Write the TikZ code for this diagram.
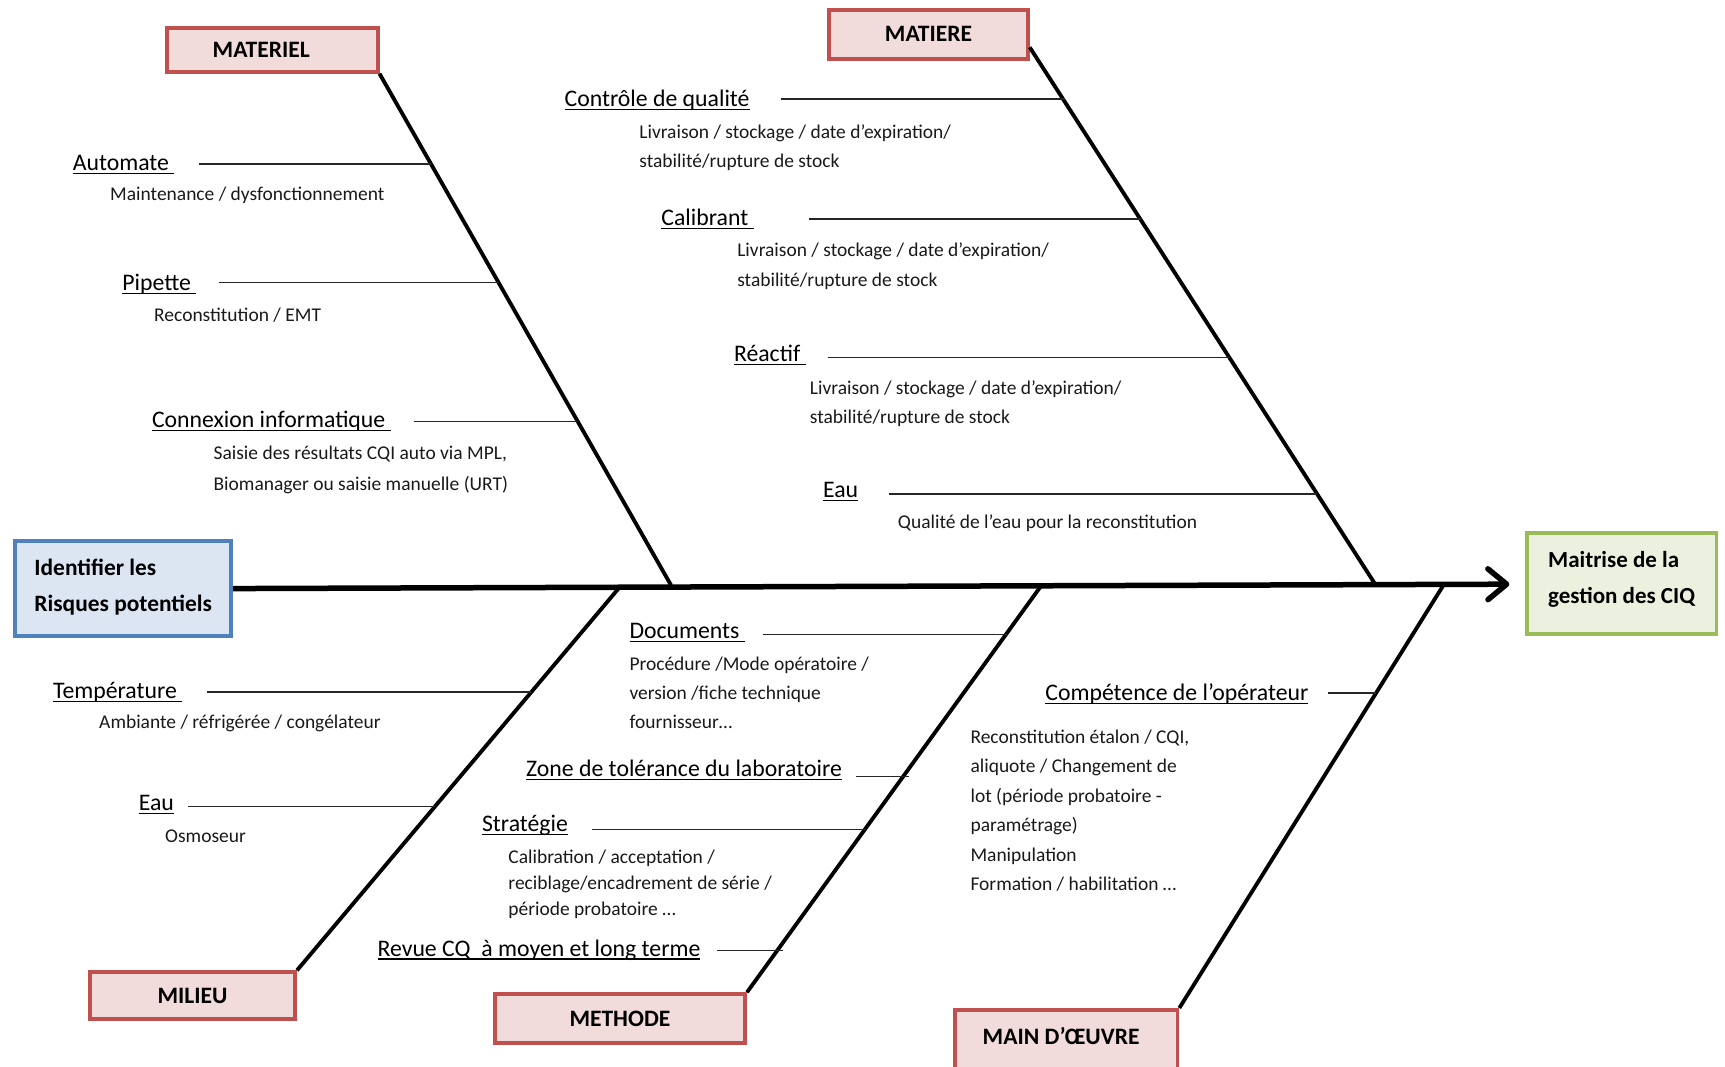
\documentclass[tikz,border=0pt]{standalone}
\usepackage{fontspec}
\setmainfont{Carlito}
\usetikzlibrary{arrows.meta,calc}
\definecolor{redb}{HTML}{C0504D}
\definecolor{redf}{HTML}{F2DCDB}
\definecolor{blueb}{HTML}{4F81BD}
\definecolor{bluef}{HTML}{DCE6F2}
\definecolor{greenb}{HTML}{9BBB59}
\definecolor{greenf}{HTML}{EBF1DE}
\newsavebox\ulbox
\newcommand\uln[1]{\sbox\ulbox{#1}\rlap{\rule[-3.2pt]{\wd\ulbox}{1pt}}\usebox\ulbox}
\begin{document}
\begin{tikzpicture}[x=1pt,y=-1pt,
  redbox/.style={draw=redb, fill=redf, line width=3.5pt, inner sep=0pt,
    font=\fontsize{21.4}{24}\selectfont\bfseries},
  endbox/.style={line width=3.5pt, inner sep=0pt, align=left, text height=47pt},
  lab/.style={anchor=base west, inner sep=0pt, font=\fontsize{21.6}{24}\selectfont},
  sub/.style={anchor=base west, inner sep=0pt, align=left, text=black!90,
    font=\fontsize{17.7}{27}\selectfont},
  bone/.style={line width=3.5pt},
  twig/.style={line width=1.3pt, draw=black!85},
]
\useasboundingbox (0,0) rectangle (1568,969);

% head and tail boxes
\node[endbox, draw=blueb, fill=bluef, minimum width=196.5pt, minimum height=86.5pt, text depth=5pt,
  font=\fontsize{21.3}{33}\selectfont\bfseries] (ident) at (112,535)
  {Identifier les\\Risques potentiels};
\node[endbox, draw=greenb, fill=greenf, minimum width=172.5pt, minimum height=91.5pt, text depth=10pt,
  font=\fontsize{20.9}{33}\selectfont\bfseries] (goal) at (1474,530.5)
  {Maitrise de la\\gestion des CIQ};

% category boxes
\node[redbox, minimum width=191.5pt, minimum height=39.5pt] (materiel) at (247.5,45.5) {MATERIEL\kern20pt};
\node[redbox, minimum width=180.5pt, minimum height=44.5pt] (matiere) at (844,31) {MATIERE};
\node[redbox, minimum width=186.5pt, minimum height=42.5pt] (milieu) at (175,905) {MILIEU};
\node[redbox, minimum width=227.5pt, minimum height=44.5pt] (methode) at (563.5,926) {METHODE};
\node[redbox, minimum width=202.5pt, minimum height=56pt, text depth=8pt] (main) at (969,946) {MAIN D’ŒUVRE\kern9pt};

% spine
\coordinate (tip) at (1372,531);
\draw[line width=5pt, -{Straight Barb[length=17pt,width=28pt,round]}] (ident.east) -- (tip);

% bones
\coordinate (jm1) at (610,532);
\coordinate (jm2) at (1250,531);
\coordinate (jb1) at (563,534);
\coordinate (jb2) at (946,533);
\coordinate (jb3) at (1312,532);
\draw[bone] (materiel.south east) -- (jm1);
\draw[bone] ([yshift=12pt]matiere.south east) -- (jm2);
\draw[bone] (milieu.north east) -- (jb1);
\draw[bone] (methode.north east) -- (jb2);
\draw[bone] (main.north east) -- (jb3);

% ---- MATERIEL
\node[lab] (lauto) at (66,155) {\uln{Automate\ }};
\node[sub] (sauto) at (100,182.5) {Maintenance / dysfonctionnement};
\coordinate (a1) at (181,149); \coordinate (a2) at (392,149);
\draw[twig] (a1) -- (a2);

\node[lab] (lpip) at (111,264) {\uln{Pipette\ }};
\node[sub] (spip) at (140,292.5) {Reconstitution / EMT};
\coordinate (p1) at (199,257); \coordinate (p2) at (453.5,257);
\draw[twig] (p1) -- (p2);

\node[lab] (lconn) at (138,389) {\uln{Connexion informatique\ }};
\node[sub, font=\fontsize{17.7}{28}\selectfont] (sconn) at (194,445.5)
  {Saisie des résultats CQI auto via MPL,\\Biomanager ou saisie manuelle (URT)};
\coordinate (c1) at (376,383); \coordinate (c2) at (525.5,383);
\draw[twig] (c1) -- (c2);

% ---- MATIERE
\node[lab] (lcq) at (513,97) {\uln{Contrôle de qualité}};
\node[sub] (scq) at (581,152.5) {Livraison / stockage / date d’expiration/\\stabilité/rupture de stock};
\coordinate (q1) at (710,90); \coordinate (q2) at (968,90);
\draw[twig] (q1) -- (q2);

\node[lab] (lcal) at (601,205) {\uln{Calibrant\ }};
\node[sub] (scal) at (670,260.5) {Livraison / stockage / date d’expiration/\\stabilité/rupture de stock};
\coordinate (k1) at (735,199); \coordinate (k2) at (1037.5,199);
\draw[twig] (k1) -- (k2);

\node[lab] (lrea) at (667,329) {\uln{Réactif\ }};
\node[sub, font=\fontsize{17.7}{26}\selectfont] (srea) at (736,384.5) {Livraison / stockage / date d’expiration/\\stabilité/rupture de stock};
\coordinate (r1) at (753,325); \coordinate (r2) at (1118,325);
\draw[twig] (r1) -- (r2);

\node[lab] (leau1) at (748,452) {\uln{Eau}};
\node[sub] (seau1) at (816,480.5) {Qualité de l’eau pour la reconstitution};
\coordinate (e1) at (808,449); \coordinate (e2) at (1197.5,449);
\draw[twig] (e1) -- (e2);

% ---- MILIEU
\node[lab] (ltemp) at (48,635) {\uln{Température\ }};
\node[sub] (stemp) at (90,662.5) {Ambiante / réfrigérée / congélateur};
\coordinate (m1) at (188,629); \coordinate (m2) at (483,629);
\draw[twig] (m1) -- (m2);

\node[lab] (leau2) at (126,737) {\uln{Eau}};
\node[sub] (seau2) at (150,765.5) {Osmoseur};
\coordinate (w1) at (171,733); \coordinate (w2) at (395.5,733);
\draw[twig] (w1) -- (w2);

% ---- METHODE
\node[lab] (ldoc) at (572,580) {\uln{Documents\ }};
\node[sub, font=\fontsize{17.7}{26.5}\selectfont] (sdoc) at (572,662.5)
  {Procédure /Mode opératoire /\\version /fiche technique\\fournisseur…};
\coordinate (d1) at (694,577); \coordinate (d2) at (915,577);
\draw[twig] (d1) -- (d2);

\node[lab] (lzone) at (478,706) {\uln{Zone de tolérance du laboratoire}};
\coordinate (z1) at (778,706); \coordinate (z2) at (826,706);
\draw[twig] (z1) -- (z2);

\node[lab] (lstrat) at (438,756) {\uln{Stratégie}};
\node[sub, font=\fontsize{17.7}{24}\selectfont] (sstrat) at (462,832.5)
  {Calibration / acceptation /\\reciblage/encadrement de série /\\période probatoire …};
\coordinate (s1) at (538,754); \coordinate (s2) at (787,754);
\draw[twig] (s1) -- (s2);

\node[lab] (lrevue) at (343,869) {\uln{Revue CQ\ \ à moyen et long terme}};
\coordinate (v1) at (652,864); \coordinate (v2) at (712,864);
\draw[twig] (v1) -- (v2);

% ---- MAIN D'OEUVRE
\node[lab] (lcomp) at (950,637) {\uln{Compétence de l’opérateur}};
\node[sub, font=\fontsize{17.7}{26.8}\selectfont] (scomp) at (882,809.5)
  {Reconstitution étalon / CQI,\\aliquote / Changement de\\lot (période probatoire -\\paramétrage)\\Manipulation\\Formation / habilitation …};
\coordinate (o1) at (1207,630); \coordinate (o2) at (1251,630);
\draw[twig] (o1) -- (o2);
\end{tikzpicture}
\end{document}
